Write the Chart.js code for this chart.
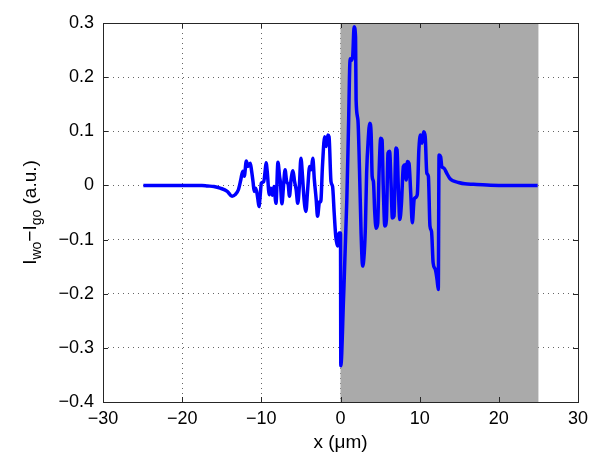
<!DOCTYPE html>
<html>
<head>
<meta charset="utf-8">
<script src="https://cdn.jsdelivr.net/npm/chart.js@4/dist/chart.umd.min.js"></script>
<style>
  html, body { margin: 0; padding: 0; background: #fff; }
  #wrap { width: 600px; height: 467px; position: relative; }
</style>
</head>
<body>
<div id="wrap"><canvas id="diffChart"></canvas></div>
<script>
// --- Data ---
const X_VALUES = [
  -24.9, -20, -17.5, -16.8, -16, -15.2, -14.3, -13.7, -13.3, -12.9,
  -12.6, -12.35, -12.15, -11.9, -11.7, -11.4, -11.25, -11.05, -10.9, -10.7,
  -10.46, -10.3, -10.15, -10.0, -9.7, -9.5, -9.4, -9.25, -9.0, -8.8,
  -8.6, -8.4, -8.15, -7.9, -7.7, -7.6, -7.4, -7.2, -7.0, -6.8,
  -6.6, -6.45, -6.25, -6.0, -5.8, -5.6, -5.4, -5.2, -5.0, -4.8,
  -4.6, -4.37, -4.15, -3.9, -3.7, -3.5, -3.3, -3.07, -2.9, -2.65,
  -2.5, -2.27, -2.0, -1.8, -1.6, -1.45, -1.2, -1.0, -0.8, -0.6,
  -0.38, -0.17, 0, 0.04, 0.38, 0.8, 1.0, 1.22, 1.43, 1.55,
  1.72, 1.9, 1.97, 2.2, 2.4, 2.6, 2.8, 3.0, 3.15, 3.3,
  3.5, 3.7, 3.87, 4.0, 4.16, 4.33, 4.5, 4.7, 4.87, 5.08,
  5.25, 5.4, 5.6, 5.8, 6.0, 6.2, 6.4, 6.55, 6.76, 7.0,
  7.14, 7.3, 7.5, 7.7, 7.94, 8.15, 8.3, 8.45, 8.65, 8.87,
  9.07, 9.3, 9.4, 9.7, 9.9, 10.1, 10.3, 10.5, 10.7, 10.9,
  11.1, 11.3, 11.5, 11.7, 11.97, 12.2, 12.35, 12.45, 12.65, 12.8,
  13.07, 13.4, 13.8, 14.2, 14.9, 15.7, 16.8, 18.5, 20, 24.9
];
const Y_VALUES = [
  0, 0, 0, -0.001, -0.002, -0.005, -0.011, -0.02, -0.017, -0.008,
  0.01, 0.026, 0.017, 0.045, 0.035, 0.041, 0.029, 0.007, -0.011, -0.005,
  -0.023, -0.039, -0.02, 0.004, 0.007, 0.029, 0.042, 0.025, -0.017, -0.005,
  -0.018, -0.002, -0.033, 0.043, 0.017, 0.007, -0.034, -0.001, 0.029, 0.007,
  0.001, -0.02, 0.01, 0.027, 0.007, -0.008, -0.033, -0.002, 0.05, 0.017,
  -0.026, -0.048, -0.008, 0.035, 0.029, 0.05, 0.01, -0.026, -0.057, -0.03,
  -0.03, 0.038, 0.09, 0.072, 0.093, 0.09, 0.007, -0.002, -0.05, -0.094,
  -0.112, -0.088, -0.088, -0.333, -0.21, -0.026, 0.1, 0.234, 0.231, 0.24,
  0.293, 0.274, 0.158, 0.121, 0.029, -0.088, -0.149, -0.125, -0.075, 0.023,
  0.084, 0.115, 0.096, 0.017, 0.007, -0.051, -0.079, -0.07, 0.023, 0.087,
  0.084, -0.002, -0.075, -0.063, 0.06, 0.063, -0.002, -0.06, -0.057, 0.069,
  0.066, -0.002, -0.063, -0.033, 0.035, 0.038, 0.01, 0.044, 0.041, -0.014,
  -0.069, -0.026, -0.023, -0.017, 0.066, 0.093, 0.078, 0.099, 0.09, 0.023,
  0.017, -0.075, -0.085, -0.143, -0.155, -0.174, -0.192, 0.056, 0.053, 0.035,
  0.032, 0.023, 0.013, 0.0086, 0.0055, 0.003, 0.002, 0.0006, 0, 0
];
const X_TICKS = [-30, -20, -10, 0, 10, 20, 30];
const Y_TICKS = [-0.4, -0.3, -0.2, -0.1, 0, 0.1, 0.2, 0.3];
const SHADE_START = 0;   // shaded region, x in µm
const SHADE_END = 25;

const FONT = "'Liberation Sans', Arial, sans-serif";

// MATLAB style minus sign
const fmt = v => {
  const s = (Math.round(v * 10) / 10).toString();
  return s.replace('-', '\u2212');
};

// gray patch + frame + inward ticks + axis titles
const matlabAxes = {
  id: 'matlabAxes',
  beforeDatasetsDraw(chart) {
    const { ctx, chartArea: a, scales: { x } } = chart;
    const x0 = x.getPixelForValue(SHADE_START);
    const x1 = x.getPixelForValue(SHADE_END);
    ctx.save();
    ctx.fillStyle = '#aaaaaa';
    ctx.fillRect(x0, a.top, x1 - x0, a.bottom - a.top);
    ctx.restore();
  },
  afterDatasetsDraw(chart) {
    const { ctx, chartArea: a, scales: { x, y } } = chart;
    ctx.save();
    ctx.strokeStyle = '#262626';
    ctx.lineWidth = 1;
    ctx.strokeRect(Math.round(a.left) + 0.5, Math.round(a.top) + 0.5,
      Math.round(a.right - a.left), Math.round(a.bottom - a.top));
    const tl = 5;
    ctx.beginPath();
    X_TICKS.forEach(v => {
      const px = Math.round(x.getPixelForValue(v)) + 0.5;
      ctx.moveTo(px, a.bottom); ctx.lineTo(px, a.bottom - tl);
      ctx.moveTo(px, a.top); ctx.lineTo(px, a.top + tl);
    });
    Y_TICKS.forEach(v => {
      const py = Math.round(y.getPixelForValue(v)) + 0.5;
      ctx.moveTo(a.left, py); ctx.lineTo(a.left + tl, py);
      ctx.moveTo(a.right, py); ctx.lineTo(a.right - tl, py);
    });
    ctx.stroke();

    // x title
    ctx.fillStyle = '#000';
    ctx.font = '19px ' + FONT;
    ctx.textAlign = 'center';
    ctx.textBaseline = 'middle';
    ctx.fillText('x (\u03bcm)', (a.left + a.right) / 2, 443);

    // y title with subscripts, rotated
    const parts = [
      ['I', 19, 0], ['wo', 14, 5], ['\u2212I', 19, 0], ['go', 14, 5], [' (a.u.)', 19, 0]
    ];
    let total = 0;
    parts.forEach(p => { ctx.font = p[1] + 'px ' + FONT; total += ctx.measureText(p[0]).width; });
    ctx.translate(30, (a.top + a.bottom) / 2);
    ctx.rotate(-Math.PI / 2);
    ctx.textAlign = 'left';
    ctx.textBaseline = 'alphabetic';
    let cx = -total / 2;
    parts.forEach(p => {
      ctx.font = p[1] + 'px ' + FONT;
      ctx.fillText(p[0], cx, 6 + p[2]);
      cx += ctx.measureText(p[0]).width;
    });
    ctx.restore();
  }
};

const gridOpts = {
  color: '#666',
  lineWidth: 1,
  drawTicks: false
};

new Chart(document.getElementById('diffChart'), {
  type: 'line',
  data: {
    datasets: [{
      data: X_VALUES.map((x, i) => ({ x: x, y: Y_VALUES[i] })),
      borderColor: '#0000ff',
      borderWidth: 3.5,
      pointRadius: 0,
      cubicInterpolationMode: 'monotone',
      fill: false
    }]
  },
  options: {
    responsive: true,
    maintainAspectRatio: false,
    animation: false,
    layout: { padding: { top: 23, right: 22, left: 0, bottom: 0 } },
    plugins: { legend: { display: false }, tooltip: { enabled: false } },
    scales: {
      x: {
        type: 'linear',
        min: -30, max: 30,
        afterBuildTicks: s => { s.ticks = X_TICKS.map(v => ({ value: v })); },
        afterFit: s => { s.height = 65; },
        grid: gridOpts,
        border: { display: false, dash: [1, 4] },
        ticks: { color: '#000', font: { size: 18, family: FONT }, padding: 6, maxRotation: 0, callback: v => fmt(v) }
      },
      y: {
        min: -0.4, max: 0.3,
        afterBuildTicks: s => { s.ticks = Y_TICKS.map(v => ({ value: v })); },
        afterFit: s => { s.width = 103; },
        grid: gridOpts,
        border: { display: false, dash: [1, 4] },
        ticks: { color: '#000', font: { size: 18, family: FONT }, padding: 9, callback: v => fmt(v) }
      }
    }
  },
  plugins: [matlabAxes]
});
</script>
</body>
</html>
